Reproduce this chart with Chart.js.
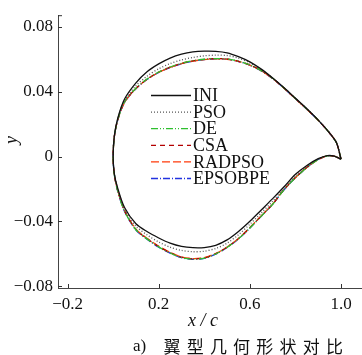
<!DOCTYPE html>
<html>
<head>
<meta charset="utf-8">
<script src="https://cdn.jsdelivr.net/npm/chart.js@4.4.1/dist/chart.umd.min.js"></script>
<style>
  html, body { margin: 0; padding: 0; background: #fff; }
  #wrap { width: 362px; height: 355px; }
  .preload { position: absolute; left: -999px; top: 0; font-family: "Liberation Serif"; }
</style>
</head>
<body>
<span class="preload">0.08 INI <i>x</i></span>
<span class="preload" style="font-family:'Noto Sans CJK SC'">翼型几何形状对比</span>
<div id="wrap"><canvas id="airfoilChart"></canvas></div>
<script>
// chord stations (x/c) for the suction and pressure sides
const xUpper = [0, 0.005, 0.02, 0.05, 0.1, 0.15, 0.2, 0.25, 0.3, 0.35, 0.4, 0.45, 0.5, 0.55, 0.6, 0.65, 0.7, 0.75, 0.8, 0.85, 0.9, 0.95, 0.98, 1.0];
const xLower = [0, 0.005, 0.02, 0.05, 0.1, 0.15, 0.2, 0.25, 0.3, 0.35, 0.4, 0.45, 0.5, 0.55, 0.6, 0.65, 0.7, 0.75, 0.8, 0.85, 0.9, 0.94, 0.97, 1.0];

// y/c on the upper surface
const iniUpper = [0, 0.0125, 0.0235, 0.0355, 0.0455, 0.0525, 0.0572, 0.0608, 0.0632, 0.0646, 0.0651, 0.065, 0.0641, 0.0617, 0.0585, 0.054, 0.0485, 0.0425, 0.036, 0.0295, 0.0225, 0.0145, 0.0085, -0.0016];
const psoUpper = [0, 0.0122, 0.023, 0.0345, 0.0437, 0.0498, 0.0542, 0.0574, 0.0597, 0.0612, 0.0622, 0.0626, 0.0624, 0.0608, 0.0578, 0.0537, 0.0484, 0.0424, 0.0359, 0.0294, 0.0225, 0.0145, 0.0085, -0.0016];
const deUpper = [0, 0.012, 0.0226, 0.0337, 0.0422, 0.048, 0.0522, 0.0553, 0.0576, 0.0592, 0.0601, 0.0605, 0.0602, 0.0589, 0.0566, 0.0531, 0.0483, 0.0423, 0.0358, 0.0293, 0.0224, 0.0145, 0.0085, -0.0016];
const csaUpper = [0, 0.012, 0.0225, 0.0336, 0.0421, 0.0479, 0.0521, 0.0552, 0.0575, 0.0591, 0.06, 0.0605, 0.0602, 0.0588, 0.0565, 0.053, 0.0482, 0.0422, 0.0357, 0.0292, 0.0224, 0.0145, 0.0085, -0.0016];
const radpsoUpper = [0, 0.012, 0.0225, 0.0335, 0.042, 0.0478, 0.052, 0.0551, 0.0574, 0.059, 0.0599, 0.0604, 0.0601, 0.0588, 0.0565, 0.053, 0.0482, 0.0422, 0.0357, 0.0292, 0.0224, 0.0145, 0.0085, -0.0016];
const epsobpeUpper = [0, 0.0119, 0.0224, 0.0334, 0.0419, 0.0477, 0.0519, 0.055, 0.0573, 0.0589, 0.0599, 0.0604, 0.0601, 0.0587, 0.0564, 0.0529, 0.0481, 0.0421, 0.0357, 0.0292, 0.0224, 0.0145, 0.0085, -0.0016];

// y/c on the lower surface
const iniLower = [0, -0.0105, -0.0195, -0.0315, -0.0415, -0.0465, -0.0503, -0.0535, -0.0555, -0.0563, -0.0562, -0.0548, -0.0515, -0.0463, -0.04, -0.033, -0.026, -0.0187, -0.011, -0.0055, -0.0013, 0.0006, 0.0003, -0.0016];
const psoLower = [0, -0.0107, -0.0202, -0.0325, -0.043, -0.0485, -0.0528, -0.056, -0.058, -0.0588, -0.0585, -0.0568, -0.0535, -0.0483, -0.0418, -0.0348, -0.0276, -0.0195, -0.012, -0.0062, -0.0016, 0.0005, 0.0002, -0.0016];
const deLower = [0, -0.011, -0.0212, -0.0338, -0.0452, -0.051, -0.0558, -0.0596, -0.0624, -0.0634, -0.0628, -0.0602, -0.0561, -0.0508, -0.0441, -0.0368, -0.0295, -0.0205, -0.0131, -0.0068, -0.0018, 0.0004, 0.0002, -0.0016];
const csaLower = [0, -0.011, -0.021, -0.0335, -0.045, -0.0508, -0.0556, -0.0594, -0.0622, -0.0632, -0.0626, -0.06, -0.056, -0.0507, -0.044, -0.0367, -0.0294, -0.0204, -0.013, -0.0068, -0.0018, 0.0004, 0.0002, -0.0016];
const radpsoLower = [0, -0.0109, -0.0209, -0.0333, -0.0448, -0.0506, -0.0554, -0.0592, -0.062, -0.063, -0.0624, -0.0599, -0.0559, -0.0506, -0.0439, -0.0366, -0.0293, -0.0203, -0.0129, -0.0067, -0.0018, 0.0004, 0.0002, -0.0016];
const epsobpeLower = [0, -0.0111, -0.0214, -0.034, -0.0454, -0.0512, -0.056, -0.0597, -0.0625, -0.0635, -0.0629, -0.0603, -0.0562, -0.0509, -0.0442, -0.0369, -0.0295, -0.0205, -0.0131, -0.0068, -0.0018, 0.0004, 0.0002, -0.0016];

const seriesNames = ['INI', 'PSO', 'DE', 'CSA', 'RADPSO', 'EPSOBPE'];
const upperSets = [iniUpper, psoUpper, deUpper, csaUpper, radpsoUpper, epsobpeUpper];
const lowerSets = [iniLower, psoLower, deLower, csaLower, radpsoLower, epsobpeLower];

const xTicks = [-0.2, 0.2, 0.6, 1.0];
const xTickText = ['\u22120.2', '0.2', '0.6', '1.0'];
const yTicks = [-0.08, -0.04, 0, 0.04, 0.08];
const yTickText = ['\u22120.08', '\u22120.04', '0', '0.04', '0.08'];

const seriesColors = ['#111111', '#555555', '#2fbf2f', '#b40000', '#ff3a0a', '#2233e0'];
const seriesDashes = [[], [1, 2], [7, 2, 1, 2, 1, 2], [5, 4], [8, 3], [7, 2, 1, 2]];

const SERIF = '"Liberation Serif"';

// walk trailing edge -> leading edge along the top, then back along the bottom
function contour(upper, lower) {
    const pts = [];
    for (let i = xUpper.length - 1; i >= 0; i--) {
        pts.push({ x: xUpper[i], y: upper[i] });
    }
    for (let i = 1; i < xLower.length; i++) {
        pts.push({ x: xLower[i], y: lower[i] });
    }
    return pts;
}

const datasets = seriesNames.map((name, i) => ({
    label: name,
    data: contour(upperSets[i], lowerSets[i]),
    borderColor: seriesColors[i],
    borderDash: seriesDashes[i],
    borderWidth: 1.3,
    pointRadius: 0,
    fill: false,
    tension: 0.3
}));

// inward tick marks, legend and the captions
const decorations = {
    id: 'decorations',
    afterDraw(chart) {
        const ctx = chart.ctx;
        const area = chart.chartArea;
        const sx = chart.scales.x;
        const sy = chart.scales.y;

        ctx.save();
        ctx.strokeStyle = '#333';
        ctx.lineWidth = 1;
        ctx.beginPath();
        xTicks.forEach(v => {
            const px = Math.round(sx.getPixelForValue(v)) + 0.5;
            ctx.moveTo(px, area.bottom);
            ctx.lineTo(px, area.bottom - 4);
        });
        yTicks.forEach(v => {
            const py = Math.round(sy.getPixelForValue(v)) + 0.5;
            ctx.moveTo(area.left, py);
            ctx.lineTo(area.left + 4, py);
        });
        // small cap at the top of the y axis
        ctx.moveTo(area.left, area.top + 0.5);
        ctx.lineTo(area.left + 4, area.top + 0.5);
        ctx.stroke();

        // legend
        const lx = 151, ly = 95.5, step = 16.6;
        ctx.font = '18px ' + SERIF;
        ctx.textBaseline = 'middle';
        ctx.textAlign = 'left';
        chart.data.datasets.forEach((ds, i) => {
            const y = ly + i * step;
            ctx.strokeStyle = ds.borderColor;
            ctx.lineWidth = 1.3;
            ctx.setLineDash(ds.borderDash);
            ctx.beginPath();
            ctx.moveTo(lx, y);
            ctx.lineTo(lx + 40, y);
            ctx.stroke();
            ctx.setLineDash([]);
            ctx.fillStyle = '#111';
            ctx.fillText(ds.label, lx + 42, y + 1);
        });

        // axis titles
        ctx.fillStyle = '#111';
        ctx.font = 'italic 18px ' + SERIF;
        ctx.textAlign = 'center';
        ctx.fillText('x / c', 203, 321);
        ctx.save();
        ctx.translate(12, 140);
        ctx.rotate(-Math.PI / 2);
        ctx.fillText('y', 0, 0);
        ctx.restore();

        // caption
        ctx.font = '17px ' + SERIF;
        ctx.textAlign = 'left';
        ctx.fillText('a)', 133, 347);
        ctx.font = '17px "Noto Sans CJK SC"';
        ctx.textAlign = 'center';
        Array.from('翼型几何形状对比').forEach((ch, i) => {
            ctx.fillText(ch, 172 + i * 23.2, 347);
        });
        ctx.restore();
    }
};

function drawChart() {
    new Chart(document.getElementById('airfoilChart'), {
        type: 'line',
        data: { datasets: datasets },
        plugins: [decorations],
        options: {
            responsive: true,
            maintainAspectRatio: false,
            animation: false,
            events: [],
            layout: { padding: { top: 10, left: 0, right: 0, bottom: 0 } },
            plugins: {
                legend: { display: false },
                tooltip: { enabled: false }
            },
            scales: {
                x: {
                    type: 'linear',
                    min: -0.242,
                    max: 1.092,
                    afterBuildTicks: s => { s.ticks = xTicks.map(v => ({ value: v })); },
                    afterFit: s => { s.height = 67; },
                    grid: { display: false, drawTicks: false },
                    border: { display: true, color: '#444', width: 1 },
                    ticks: {
                        padding: 6,
                        color: '#111',
                        font: { family: SERIF, size: 17 },
                        maxRotation: 0,
                        autoSkip: false,
                        callback: (v, i) => xTickText[i]
                    }
                },
                y: {
                    type: 'linear',
                    min: -0.0812,
                    max: 0.0873,
                    afterBuildTicks: s => { s.ticks = yTicks.map(v => ({ value: v })); },
                    afterFit: s => { s.width = 58; },
                    grid: { display: false, drawTicks: false },
                    border: { display: true, color: '#444', width: 1 },
                    ticks: {
                        padding: 5,
                        color: '#111',
                        font: { family: SERIF, size: 17 },
                        autoSkip: false,
                        callback: (v, i) => yTickText[i]
                    }
                }
            }
        }
    });
}

Promise.all([
    document.fonts.load('17px "Liberation Serif"'),
    document.fonts.load('italic 18px "Liberation Serif"'),
    document.fonts.load('17px "Noto Sans CJK SC"', '翼型')
]).then(drawChart, drawChart);
</script>
</body>
</html>
